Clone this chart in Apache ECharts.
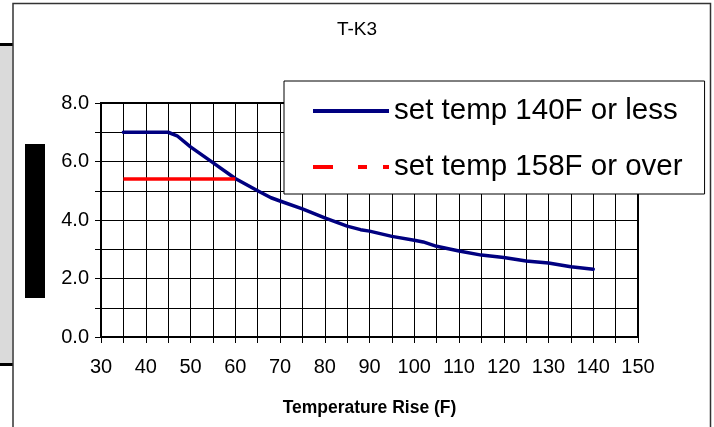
<!DOCTYPE html>
<html>
<head>
<meta charset="utf-8">
<script src="https://cdn.jsdelivr.net/npm/echarts@6/dist/echarts.min.js"></script>
<style>
html,body{margin:0;padding:0;background:#fff;}
#chart{width:714px;height:427px;}
</style>
</head>
<body>
<div id="chart"></div>
<script>
// ---- data ----
const chartTitle = 'T-K3';
const xAxisTitle = 'Temperature Rise (F)';
const seriesNames = ['set temp 140F or less', 'set temp 158F or over'];
const riseLow = [35, 45, 47, 50, 55, 60, 65, 68, 70, 75, 80, 85, 88, 90, 95, 100, 102, 105, 110, 115, 120, 125, 130, 135, 140];
const capLow  = [7.0, 7.0, 6.88, 6.5, 5.96, 5.42, 5.0, 4.76, 4.65, 4.38, 4.07, 3.79, 3.67, 3.62, 3.44, 3.31, 3.25, 3.1, 2.94, 2.8, 2.72, 2.6, 2.53, 2.4, 2.32];
const riseHigh = [35, 60];
const capHigh  = [5.4, 5.4];
const xTicks = [30, 150, 10];
const yTicks = [0, 8, 2];

const FONT = '"Liberation Sans", Arial, sans-serif';
const pair = (xs, ys) => xs.map((x, i) => [x, ys[i]]);

const chart = echarts.init(document.getElementById('chart'), null, {renderer: 'canvas'});
chart.setOption({
  animation: false,
  backgroundColor: '#fff',
  title: {
    text: chartTitle, left: 'center', top: 20, padding: 0,
    textStyle: {fontFamily: FONT, fontSize: 19, fontWeight: 'normal', color: '#000'}
  },
  grid: {left: 101, right: 76, top: 103, bottom: 90, show: true, borderColor: '#000', borderWidth: 2, backgroundColor: 'transparent'},
  legend: {
    orient: 'vertical', left: 284, top: 81,
    padding: [15, 22, 12, 29],
    itemGap: 26, itemWidth: 76, itemHeight: 4,
    backgroundColor: '#fff', borderColor: '#000', borderWidth: 1, borderRadius: 0,
    textStyle: {fontFamily: FONT, fontSize: 29.5, color: '#000', lineHeight: 30},
    data: [
      {name: seriesNames[0], icon: 'rect'},
      {name: seriesNames[1], icon: 'path://M0,0H20V4H0Z M45,0H54V4H45Z M70,0H76V4H70Z'}
    ]
  },
  xAxis: {
    type: 'value', min: xTicks[0], max: xTicks[1], interval: xTicks[2],
    name: xAxisTitle, nameLocation: 'middle', nameGap: 62,
    nameTextStyle: {fontFamily: FONT, fontSize: 17.5, fontWeight: 'bold', color: '#000'},
    axisLine: {show: true, onZero: false, lineStyle: {color: '#000', width: 2}},
    axisTick: {show: true, length: 6, lineStyle: {color: '#000', width: 1}},
    minorTick: {show: true, splitNumber: 2, length: 6, lineStyle: {color: '#000', width: 1}},
    splitLine: {show: true, lineStyle: {color: '#000', width: 1}},
    minorSplitLine: {show: true, lineStyle: {color: '#000', width: 1}},
    axisLabel: {fontFamily: FONT, fontSize: 20, color: '#000', margin: 20}
  },
  yAxis: {
    type: 'value', min: yTicks[0], max: yTicks[1], interval: yTicks[2],
    axisLine: {show: true, lineStyle: {color: '#000', width: 2}},
    axisTick: {show: true, length: 6, lineStyle: {color: '#000', width: 1}},
    minorTick: {show: true, splitNumber: 2, length: 6, lineStyle: {color: '#000', width: 1}},
    splitLine: {show: true, lineStyle: {color: '#000', width: 1}},
    minorSplitLine: {show: true, lineStyle: {color: '#000', width: 1}},
    axisLabel: {fontFamily: FONT, fontSize: 20, color: '#000', margin: 12, formatter: v => v.toFixed(1)}
  },
  series: [
    {
      name: seriesNames[0], type: 'line', data: pair(riseLow, capLow),
      symbol: 'none', smooth: false,
      lineStyle: {color: '#000080', width: 3.5, join: 'round', cap: 'round'}, itemStyle: {color: '#000080'}
    },
    {
      name: seriesNames[1], type: 'line', data: pair(riseHigh, capHigh),
      symbol: 'none',
      lineStyle: {color: '#ff0000', width: 3.5}, itemStyle: {color: '#ff0000'}
    }
  ],
  graphic: [
    {type: 'rect', shape: {x: 0, y: 46, width: 12, height: 317}, style: {fill: '#dadada'}, silent: true},
    {type: 'rect', shape: {x: 0, y: 43, width: 13, height: 3}, style: {fill: '#000'}, silent: true},
    {type: 'rect', shape: {x: 0, y: 363, width: 13, height: 3}, style: {fill: '#000'}, silent: true},
    {type: 'polyline', shape: {points: [[13, 427], [13, 3.5], [710.5, 3.5], [710.5, 427]]}, style: {stroke: '#333', lineWidth: 1.5, fill: null}, silent: true},
    {type: 'rect', shape: {x: 25, y: 144, width: 20, height: 154}, style: {fill: '#000'}, silent: true}
  ]
});
</script>
</body>
</html>
